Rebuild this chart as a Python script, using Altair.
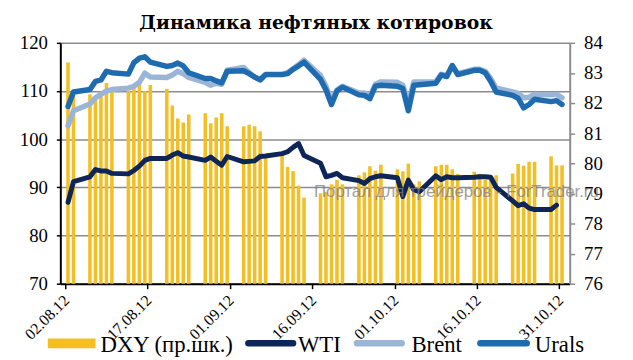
import altair as alt
import pandas as pd

# ---------------- data ----------------
dates = [
    "2012-08-02", "2012-08-03", "2012-08-06", "2012-08-07", "2012-08-08", "2012-08-09", "2012-08-10",
    "2012-08-13", "2012-08-14", "2012-08-15", "2012-08-16", "2012-08-17", "2012-08-20", "2012-08-21",
    "2012-08-22", "2012-08-23", "2012-08-24", "2012-08-27", "2012-08-28", "2012-08-29", "2012-08-30",
    "2012-08-31",
    "2012-09-03", "2012-09-04", "2012-09-05", "2012-09-06", "2012-09-07", "2012-09-10", "2012-09-11",
    "2012-09-12", "2012-09-13", "2012-09-14", "2012-09-17", "2012-09-18", "2012-09-19", "2012-09-20",
    "2012-09-21", "2012-09-24", "2012-09-25", "2012-09-26", "2012-09-27", "2012-09-28",
    "2012-10-01", "2012-10-02", "2012-10-03", "2012-10-04", "2012-10-05", "2012-10-08", "2012-10-09",
    "2012-10-10", "2012-10-11", "2012-10-12", "2012-10-15", "2012-10-16", "2012-10-17", "2012-10-18",
    "2012-10-19", "2012-10-22", "2012-10-23", "2012-10-24", "2012-10-25", "2012-10-26", "2012-10-29",
    "2012-10-30", "2012-10-31",
]

dxy = [
    83.35, 82.3, 82.29, 82.15, 82.25, 82.67, 82.5, 82.4, 82.5, 82.67, 82.4, 82.6, 82.47, 81.92,
    81.49, 81.35, 81.62, 81.66, 81.33, 81.52, 81.66, 81.23,
    81.23, 81.28, 81.23, 81.06, 80.25, 80.3, 79.88, 79.74, 79.26, 78.86, 79.0, 79.05, 79.3, 79.45,
    79.3, 79.6, 79.7, 79.9, 79.75, 79.95,
    79.8, 79.73, 79.99, 79.3, 79.4, 79.9, 79.95, 79.95, 79.8, 79.65, 79.72, 79.65, 79.45, 79.45,
    79.6, 79.66, 79.98, 79.92, 80.05, 80.05, 80.23, 79.93, 79.93,
]

wti = [
    86.9, 91.2, 92.2, 93.7, 93.4, 93.4, 92.9, 92.8, 93.5, 94.4, 95.6, 96.0, 96.0, 96.7,
    97.2, 96.5, 96.3, 95.6, 96.3, 95.4, 94.6, 96.4,
    95.3, 95.4, 95.5, 96.4, 96.5, 97.0, 97.4, 98.3, 99.1, 96.6, 95.0, 92.2, 92.5, 92.9,
    92.0, 91.4, 90.8, 91.8, 92.2, 92.4,
    92.0, 88.1, 91.5, 89.5, 89.1, 92.4, 91.6, 92.2, 92.0, 92.0, 92.1, 92.2, 92.2, 92.1,
    90.0, 87.2, 86.2, 86.6, 85.7, 85.4, 85.4, 86.3,
]

brent = [
    102.8, 105.9, 107.3, 108.6, 109.3, 110.0, 110.3, 110.6, 111.0, 111.8, 113.7, 112.9, 112.8, 113.3,
    114.1, 113.6, 112.8, 111.8, 111.2, 111.6, 111.4, 114.3,
    114.9, 113.8, 112.9, 112.4, 113.5, 113.5, 113.8, 114.6, 115.5, 116.4, 113.2, 111.0, 108.0, 110.2,
    111.0, 109.6, 109.6, 108.9, 111.4, 111.9,
    111.8, 111.2, 107.5, 111.9, 111.9, 111.9, 113.5, 113.2, 115.2, 113.6, 114.5, 114.5, 114.1, 112.6,
    110.6, 109.8, 109.5, 108.6, 108.7, 109.3, 109.2, 109.3, 108.6,
]

urals = [
    106.8, 109.8, 110.3, 112.0, 112.3, 114.1, 113.8, 113.5, 115.9, 116.8, 117.1, 116.0, 115.1, 115.3,
    115.8, 115.2, 113.8, 112.6, 112.6, 112.1, 111.7, 114.1,
    114.2, 113.6, 112.9, 112.3, 113.4, 113.4, 113.6, 114.5, 115.2, 116.0, 112.4, 110.2, 107.2, 110.0,
    110.8, 109.2, 109.1, 108.4, 111.0, 111.2,
    111.0, 110.5, 105.9, 111.2, 111.3, 111.6, 113.3, 113.0, 115.3, 113.4, 114.3, 114.3, 113.8, 112.0,
    109.8, 109.1, 108.5, 106.5, 107.2, 108.3, 107.8, 108.0, 107.2,
]

tick_days = [0, 15, 30, 45, 60, 75, 90]
tick_labels = ["02.08.12", "17.08.12", "01.09.12", "16.09.12", "01.10.12", "16.10.12", "31.10.12"]

legend_labels = ["DXY (пр.шк.)", "WTI", "Brent", "Urals"]
title_text = "Динамика нефтяных котировок"
watermark_text = "Портал для трейдеров - ForTrader.ru"

# ---------------- styling ----------------
C_DXY = "#F4BF22"
C_WTI = "#0E2657"
C_BRENT = "#9BB5D6"
C_URALS = "#1F6BB0"
GRID = "#8C8C8C"
SERIF = "Liberation Serif"

# ---------------- frames ----------------
start = pd.Timestamp("2012-08-02")
day = [(pd.Timestamp(d) - start).days + 0.5 for d in dates]

bars_df = pd.DataFrame({"d": day, "dxy": dxy, "base": [76] * len(day)})
wti_df = pd.DataFrame({"d": day[: len(wti)], "v": wti})
brent_df = pd.DataFrame({"d": day, "v": brent})
urals_df = pd.DataFrame({"d": day, "v": urals})

W, H = 516, 244
label_arr = "[" + ",".join("'%s'" % t for t in tick_labels) + "]"

x_enc = alt.X(
    "d:Q",
    scale=alt.Scale(domain=[0, 91], nice=False, zero=False),
    axis=alt.Axis(
        values=tick_days,
        labelExpr=label_arr + "[round(datum.value/15)]",
        labelAngle=-45,
        labelAlign="right",
        labelBaseline="middle",
        labelFont=SERIF,
        labelFontSize=16,
        labelColor="black",
        labelPadding=9,
        labelOffset=1,
        tickSize=5,
        tickColor="black",
        tickWidth=1.5,
        domainColor="black",
        domainWidth=2,
        grid=False,
        title=None,
        labelOverlap=False,
        labelBound=False,
    ),
)

bars = alt.Chart(bars_df).mark_bar(size=3.6, color=C_DXY).encode(
    x=x_enc,
    y=alt.Y(
        "dxy:Q",
        scale=alt.Scale(domain=[76, 84], nice=False, zero=False),
        axis=alt.Axis(
            orient="right",
            values=list(range(76, 85)),
            labelFont=SERIF,
            labelFontSize=19,
            labelColor="black",
            labelPadding=9,
            tickSize=5,
            tickColor=GRID,
            tickWidth=1.5,
            domainColor=GRID,
            domainWidth=2,
            grid=False,
            title=None,
        ),
    ),
    y2="base:Q",
)

left_scale = alt.Scale(domain=[70, 120], nice=False, zero=False)
left_axis = alt.Axis(
    orient="left",
    values=[70, 80, 90, 100, 110, 120],
    labelFont=SERIF,
    labelFontSize=19,
    labelColor="black",
    labelPadding=9,
    tickSize=4,
    tickColor="black",
    tickWidth=1.5,
    domainColor="black",
    domainWidth=2,
    grid=True,
    gridColor=GRID,
    gridWidth=1.5,
    gridOpacity=1,
    title=None,
)


def line(df, color, width):
    return alt.Chart(df).mark_line(
        color=color, strokeWidth=width, strokeJoin="round", strokeCap="round"
    ).encode(
        x=alt.X("d:Q"),
        y=alt.Y("v:Q", scale=left_scale, axis=left_axis),
    )


lines = alt.layer(
    line(wti_df, C_WTI, 5),
    line(brent_df, C_BRENT, 5.5),
    line(urals_df, C_URALS, 5.5),
)

# ---------------- title, watermark, legend ----------------
title = alt.Chart(pd.DataFrame({"t": [title_text]})).mark_text(
    font="DejaVu Serif", fontSize=19, fontWeight="bold", align="center", baseline="alphabetic", color="black"
).encode(text="t:N", x=alt.value(W / 2 + 1), y=alt.value(-14))

watermark = alt.Chart(pd.DataFrame({"t": [watermark_text]})).mark_text(
    font="Liberation Sans", fontSize=17, align="left", baseline="alphabetic", color="#808080", opacity=0.75
).encode(text="t:N", x=alt.value(257), y=alt.value(156))

leg_y = 304.3
leg_text_y = 313.5
leg_rect = alt.Chart(pd.DataFrame({"k": [legend_labels[0]]})).mark_rect(color=C_DXY).encode(
    x=alt.value(-12.7), x2=alt.value(35.7), y=alt.value(299.5), y2=alt.value(309.5)
)
leg_lines = [
    alt.Chart(pd.DataFrame({"k": [legend_labels[i]]})).mark_rule(
        color=c, strokeWidth=6.5, strokeCap="round"
    ).encode(x=alt.value(x0 + 3.2), x2=alt.value(x1 - 3.2), y=alt.value(leg_y))
    for i, c, x0, x1 in [(1, C_WTI, 187.3, 239.0), (2, C_BRENT, 297.3, 349.0), (3, C_URALS, 422.3, 475.7)]
]
leg_texts = [
    alt.Chart(pd.DataFrame({"t": [legend_labels[i]]})).mark_text(
        font=SERIF, fontSize=23, align="left", baseline="alphabetic", color="black"
    ).encode(text="t:N", x=alt.value(xx), y=alt.value(leg_text_y))
    for i, xx in [(0, 40.7), (1, 240.7), (2, 355.7), (3, 480.7)]
]

chart = (
    alt.layer(bars, lines, title, watermark, leg_rect, *leg_lines, *leg_texts)
    .resolve_scale(y="independent")
    .properties(
        width=W,
        height=H,
        autosize=alt.AutoSizeParams(type="none"),
        padding={"left": 53, "top": 33, "right": 56, "bottom": 75},
        background="white",
    )
    .configure_view(stroke=None)
)

chart.save("out.html", embed_options={"renderer": "svg", "actions": False})
